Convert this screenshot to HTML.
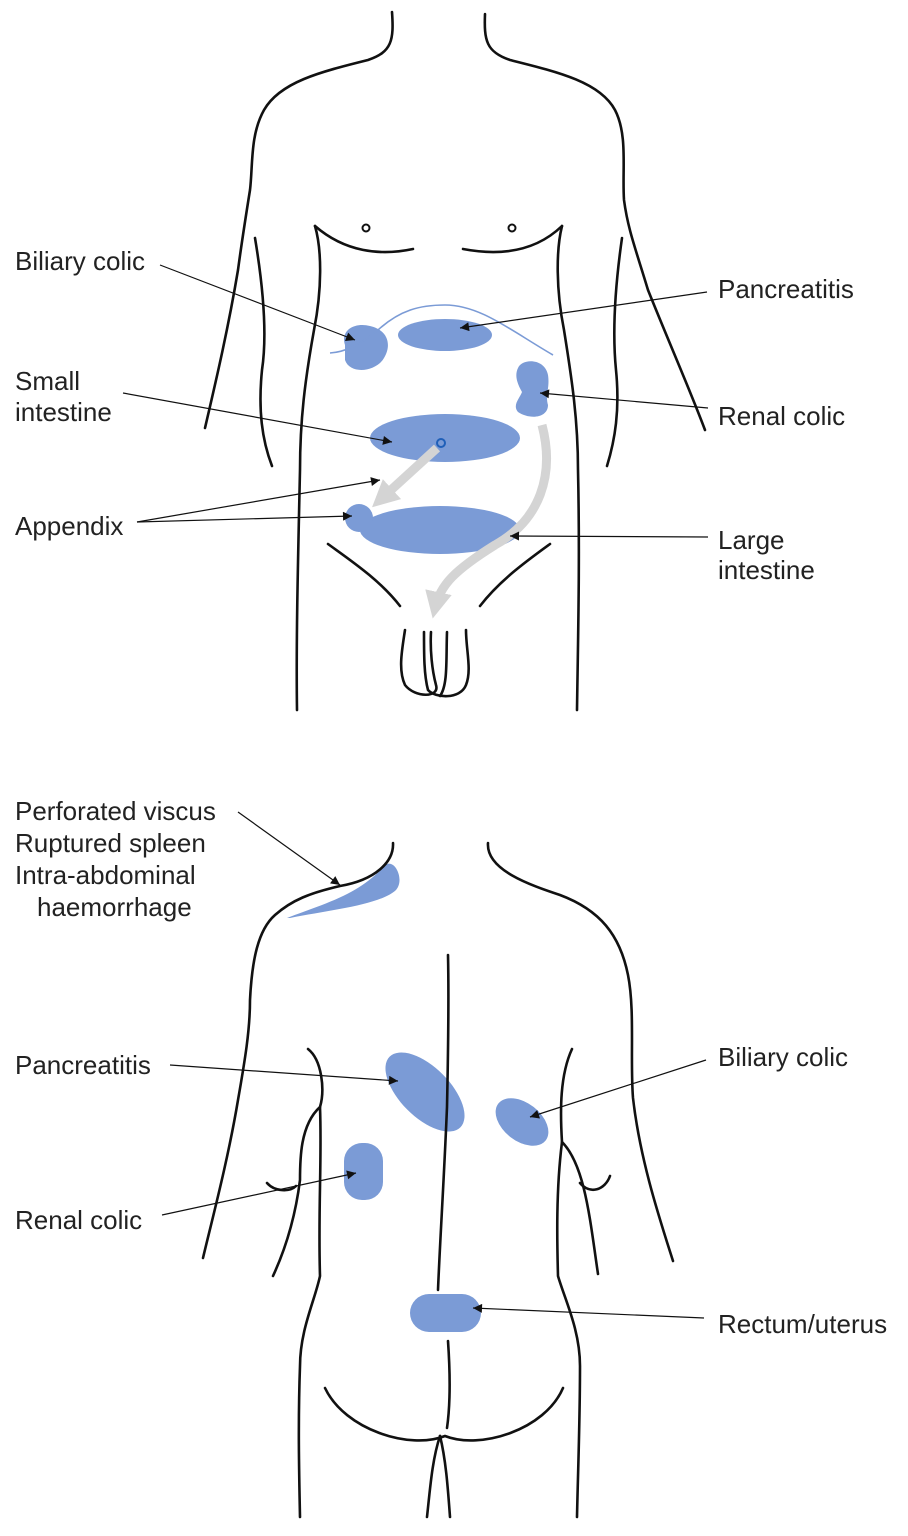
<!DOCTYPE html>
<html><head><meta charset="utf-8"><style>
html,body{margin:0;padding:0;background:#fff}
svg{display:block}
text{font-family:"Liberation Sans",sans-serif;font-size:26px;fill:#222}
</style></head><body>
<svg width="908" height="1536" viewBox="0 0 908 1536" xmlns="http://www.w3.org/2000/svg">
<defs>
<marker id="ah" viewBox="0 0 10 10" refX="10" refY="5" markerWidth="14" markerHeight="9" orient="auto" markerUnits="userSpaceOnUse"><path d="M0,0 L10,5 L0,10 z" fill="#111"/></marker>
<marker id="gh" viewBox="0 0 10 10" refX="6" refY="5" markerWidth="3" markerHeight="3" orient="auto"><path d="M0,0 L10,5 L0,10 z" fill="#d4d4d4"/></marker>
</defs>
<g fill="none" stroke="#111" stroke-width="2.6" stroke-linecap="round">
<path d="M392,12 C394,40 392,52 368,60 C320,72 280,82 264,110 C250,135 253,165 250,190 C246,215 242,240 238,270 C228,330 215,385 205,428"/>
<path d="M485,14 C484,40 486,52 510,60 C558,72 600,82 615,110 C628,135 622,170 624,200 C628,230 636,250 648,290 C668,340 690,390 705,430"/>
<path d="M255,238 C262,280 268,330 262,370 C258,410 262,440 272,466"/>
<path d="M622,238 C616,280 612,330 616,370 C620,410 615,440 607,466"/>
<path d="M315,226 C322,250 322,290 314,330 C305,380 300,420 300,470 C298,560 296,640 297,710"/>
<path d="M562,226 C556,250 556,290 564,330 C572,380 578,420 578,470 C580,560 578,640 577,710"/>
<path d="M315,226 C345,252 380,256 413,249"/>
<path d="M463,249 C500,256 535,252 562,226"/>
<path d="M328,544 C350,560 380,580 400,606"/>
<path d="M550,544 C528,560 500,580 480,606"/>
<path d="M405,630 C402,650 398,670 405,685 C415,698 440,698 436,685 C432,670 430,650 431,632"/>
<path d="M424,632 C424,655 424,675 428,690 C435,698 460,700 466,685 C472,670 466,650 466,630"/>
<path d="M447,632 C446,660 448,685 440,696"/>
</g>
<circle cx="366" cy="228" r="3.5" fill="none" stroke="#111" stroke-width="2"/>
<circle cx="512" cy="228" r="3.5" fill="none" stroke="#111" stroke-width="2"/>
<g fill="#7b9bd6">
<path d="M345,345 C340,330 355,322 370,326 C388,330 392,345 384,358 C376,372 350,375 345,360 Z"/>
<ellipse cx="445" cy="335" rx="47" ry="16"/>
<path d="M518,368 C522,358 545,358 548,375 C550,388 545,395 548,405 C548,418 530,420 518,412 C512,405 520,398 522,392 C518,385 514,376 518,368 Z"/>
<ellipse cx="445" cy="438" rx="75" ry="24"/>
<ellipse cx="440" cy="530" rx="80" ry="24"/>
<circle cx="359" cy="518" r="14"/>
</g>
<path d="M330,353 C345,352 360,345 378,330 C400,310 420,305 445,305 C480,305 510,330 553,355" fill="none" stroke="#7b9bd6" stroke-width="1.6"/>
<circle cx="441" cy="443" r="4" fill="none" stroke="#1f5fb8" stroke-width="2"/>
<path d="M437,448 L380,500" stroke="#d4d4d4" stroke-width="9" fill="none" marker-end="url(#gh)"/>
<path d="M542,425 C555,475 540,520 495,545 C455,570 440,585 435,608" stroke="#d4d4d4" stroke-width="9" fill="none" marker-end="url(#gh)"/>
<g stroke="#111" stroke-width="1.2" fill="none" marker-end="url(#ah)">
<path d="M160,265 L355,340"/>
<path d="M707,292 L460,328"/>
<path d="M123,393 L392,442"/>
<path d="M708,408 L540,393"/>
<path d="M137,522 L380,480"/>
<path d="M137,522 L352,516"/>
<path d="M708,537 L510,536"/>
</g>
<text x="15" y="270">Biliary colic</text>
<text x="718" y="298">Pancreatitis</text>
<text x="15" y="390">Small</text>
<text x="15" y="421">intestine</text>
<text x="718" y="425">Renal colic</text>
<text x="15" y="535">Appendix</text>
<text x="718" y="549">Large</text>
<text x="718" y="579">intestine</text>
<path d="M287,918 C320,905 360,895 385,865 C395,858 405,880 396,890 C380,905 330,910 290,918 Z" fill="#7b9bd6"/>
<g fill="#7b9bd6">
<ellipse cx="425" cy="1092" rx="50" ry="25" transform="rotate(45 425 1092)"/>
<ellipse cx="522" cy="1122" rx="30" ry="19" transform="rotate(38 522 1122)"/>
<rect x="344" y="1143" width="39" height="57" rx="18"/>
<rect x="410" y="1294" width="71" height="38" rx="19"/>
</g>
<g fill="none" stroke="#111" stroke-width="2.6" stroke-linecap="round">
<path d="M393,843 C394,862 375,880 340,886 C310,893 292,900 275,915 C258,930 252,960 250,1000 C250,1030 245,1060 238,1100 C228,1160 212,1220 203,1258"/>
<path d="M488,843 C486,870 530,885 560,895 C600,910 620,935 628,975 C635,1010 630,1060 633,1098 C640,1160 660,1220 673,1261"/>
<path d="M308,1049 C322,1060 325,1090 320,1107 C300,1125 300,1160 300,1180 C295,1220 285,1250 273,1276"/>
<path d="M320,1107 C322,1160 318,1210 320,1276 C315,1300 300,1330 300,1366 C298,1420 299,1470 300,1517"/>
<path d="M267,1183 C275,1192 290,1192 296,1186"/>
<path d="M572,1049 C560,1075 560,1110 562,1142 C585,1165 590,1220 598,1274"/>
<path d="M562,1142 C556,1190 557,1240 558,1276 C565,1300 580,1330 580,1366 C580,1420 578,1470 577,1517"/>
<path d="M580,1183 C590,1195 605,1190 610,1176"/>
<path d="M448,955 C449,1000 448,1060 447,1107 C444,1180 440,1240 438,1290"/>
<path d="M448,1341 C450,1370 451,1400 447,1428"/>
<path d="M325,1388 C345,1430 410,1450 445,1436 C480,1450 545,1430 563,1388"/>
<path d="M440,1436 C432,1460 430,1490 427,1517"/>
<path d="M440,1436 C446,1460 448,1490 450,1517"/>
</g>
<g stroke="#111" stroke-width="1.2" fill="none" marker-end="url(#ah)">
<path d="M238,812 L340,885"/>
<path d="M170,1065 L398,1081"/>
<path d="M706,1060 L530,1117"/>
<path d="M162,1215 L356,1173"/>
<path d="M704,1318 L473,1308"/>
</g>
<text x="15" y="820">Perforated viscus</text>
<text x="15" y="852">Ruptured spleen</text>
<text x="15" y="884">Intra-abdominal</text>
<text x="37" y="916">haemorrhage</text>
<text x="15" y="1074">Pancreatitis</text>
<text x="718" y="1066">Biliary colic</text>
<text x="15" y="1229">Renal colic</text>
<text x="718" y="1333">Rectum/uterus</text>
</svg>
</body></html>
